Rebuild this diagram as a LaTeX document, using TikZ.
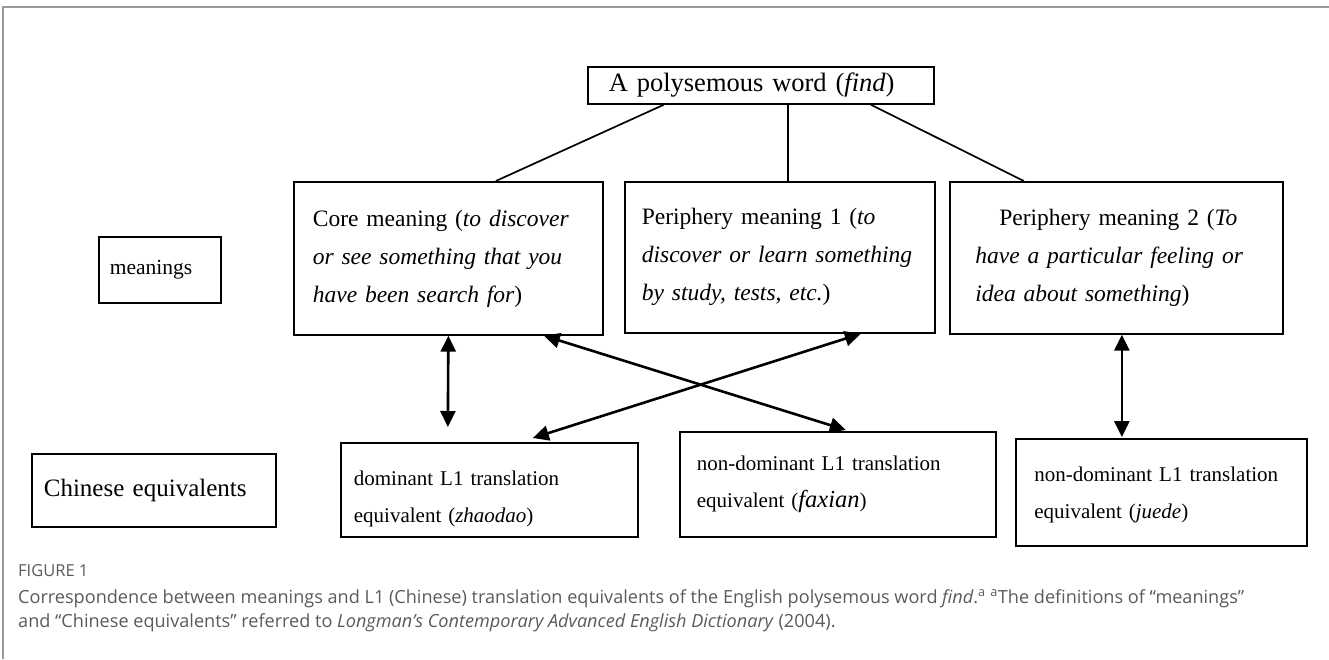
\documentclass[tikz,border=0pt]{standalone}
\usepackage{fontspec}
\setmainfont{Liberation Serif}
\newfontfamily\capfont{Open Sans}
\usetikzlibrary{arrows.meta,calc}
\definecolor{capgray}{HTML}{5A5A5A}
\definecolor{framegray}{HTML}{9A9A9A}
\tikzset{
  box/.style={draw=black, line width=1.7pt, rectangle, anchor=north west, inner sep=0pt, align=left},
  link/.style={line width=1.7pt},
  dbl/.style={line width=2.6pt, {Triangle[length=16pt,width=15pt]}-{Triangle[length=16pt,width=15pt]}},
  big/.style={font=\fontsize{23.5}{38}\selectfont},
  small/.style={font=\fontsize{21}{37}\selectfont},
}
\begin{document}
\begin{tikzpicture}[x=1pt,y=-1pt]
\useasboundingbox (0,0) rectangle (1329,659);
% partial outer frame
\draw[framegray, line width=2pt] (1329,7) -- (3,7) -- (3,659);

\node[box, minimum width=346pt, minimum height=37pt, text width=304pt, font=\fontsize{26.5}{30}\selectfont] (top) at (587,66)
  {A polysemous word (\textit{find})};

\node[box, big, minimum width=309pt, minimum height=153pt, text width=271pt] (core) at (293,181)
  {Core meaning (\textit{to discover}\\ \textit{or see something that you}\\ \textit{have been search for})};
\node[box, big, minimum width=310pt, minimum height=151pt, text width=276pt] (pa) at (624,181)
  {Periphery meaning 1 (\textit{to}\\ \textit{discover or learn something}\\ \textit{by study, tests, etc.})};
\node[box, big, minimum width=333pt, minimum height=152pt, text width=282pt] (pb) at (949,181)
  {\hspace*{24pt}Periphery meaning 2 (\textit{To}\\ \textit{have a particular feeling or}\\ \textit{idea about something})};

\node[box, minimum width=122pt, minimum height=66pt, text width=100pt, font=\fontsize{21.5}{25}\selectfont] (mean) at (98,236)
  {meanings};
\node[box, minimum width=244pt, minimum height=73pt, text width=220pt, font=\fontsize{25}{28}\selectfont] (chin) at (31,453)
  {Chinese equivalents};

\node[box, small, minimum width=297pt, minimum height=94pt, text width=271pt] (dom) at (340,442)
  {\rule{0pt}{32pt}dominant L1 translation\\ equivalent (\textit{zhaodao})};
\node[box, small, minimum width=316pt, minimum height=105pt, text width=282pt] (fax) at (679,431)
  {non-dominant L1 translation\\ equivalent (\textit{\fontsize{24.5}{37}\selectfont faxian})};
\node[box, small, minimum width=291pt, minimum height=107pt, text width=254pt] (jue) at (1015,438)
  {\rule{0pt}{20pt}non-dominant L1 translation\\ equivalent (\textit{juede})};

% links from the word to its meanings
\draw[link] ([xshift=-97pt]top.south) -- ([xshift=47.5pt]core.north);
\draw[link] ([xshift=27pt]top.south) -- ([xshift=8pt]pa.north);
\draw[link] ([xshift=110pt]top.south) -- ([xshift=-92.5pt]pb.north);

% correspondences
\draw[dbl] (core.south) -- ([xshift=-41.5pt,yshift=15pt]dom.north);
\draw[dbl] ([xshift=95.5pt]core.south) -- ([xshift=8pt,yshift=1pt]fax.north);
\draw[dbl] ([xshift=81pt]pa.south) -- ([xshift=43.5pt,yshift=4pt]dom.north);
\draw[dbl] ([xshift=5.5pt]pb.south) -- ([xshift=-39.5pt,yshift=1pt]jue.north);

% caption
\node[anchor=west, inner sep=0pt, text=capgray, font=\capfont\fontsize{16.5}{18}\selectfont] (fig) at (18,571) {FIGURE 1};
\node[anchor=north west, inner sep=0pt, text=capgray, align=left, font=\capfont\fontsize{18.1}{24}\selectfont] (cap) at (18,589)
  {Correspondence between meanings and L1 (Chinese) translation equivalents of the English polysemous word \textit{find}.\textsuperscript{a} \textsuperscript{a}The definitions of “meanings”\\
   and “Chinese equivalents” referred to \textit{Longman’s Contemporary Advanced English Dictionary} (2004).};
\end{tikzpicture}
\end{document}
